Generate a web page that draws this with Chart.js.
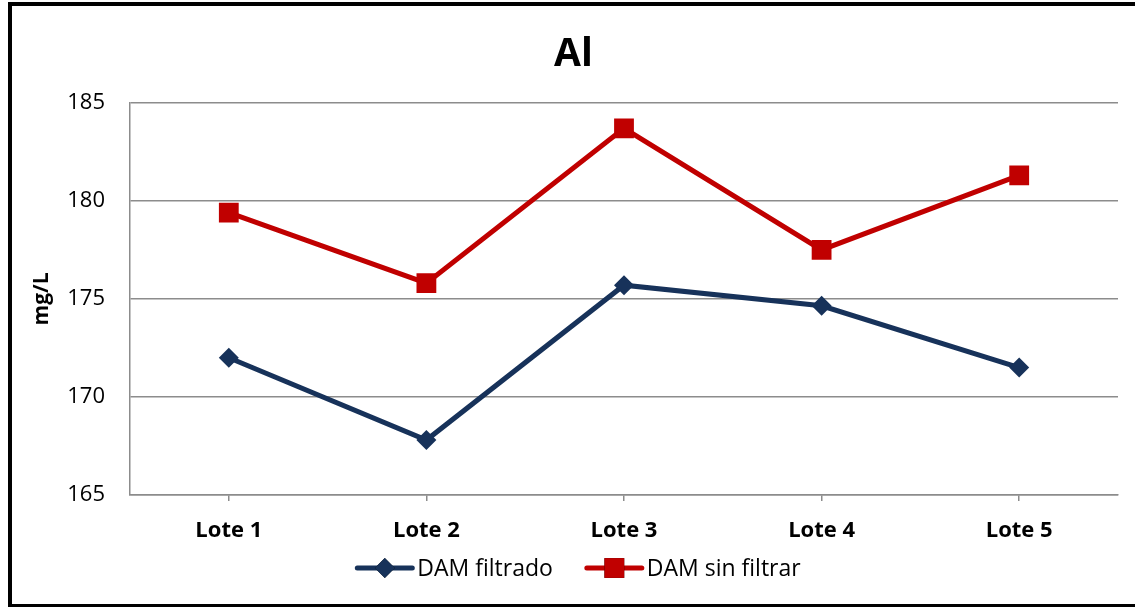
<!DOCTYPE html>
<html>
<head>
<meta charset="utf-8">
<script src="https://cdn.jsdelivr.net/npm/chart.js@4/dist/chart.umd.min.js"></script>
<style>
  html, body { margin: 0; padding: 0; background: #fff; overflow: hidden; }
  #wrap { position: relative; width: 1135px; height: 607px; }
  #frame { position: absolute; left: 8px; top: 2px; width: 1200px; height: 598px; border: 4px solid #000; pointer-events: none; }
</style>
</head>
<body>
<div id="wrap">
  <canvas id="chart" width="1135" height="607"></canvas>
  <div id="frame"></div>
</div>
<script>
// Data
const categories = ['Lote 1', 'Lote 2', 'Lote 3', 'Lote 4', 'Lote 5'];
const damFiltrado = [172.0, 167.8, 175.7, 174.65, 171.5];
const damSinFiltrar = [179.4, 175.8, 183.7, 177.5, 181.3];
const yTicks = [165, 170, 175, 180, 185];

const FONT = '"Open Sans", "Noto Sans", sans-serif';
const NAVY = '#17325A';
const RED = '#C00000';
const GRID = '#8c8c8c';

// Legend drawn as line + marker, like the original
const lineLegend = {
  id: 'lineLegend',
  afterDraw(chart) {
    const ctx = chart.ctx;
    ctx.save();
    ctx.font = '23px ' + FONT;
    ctx.textBaseline = 'middle';
    const items = chart.data.datasets.map(ds => ({ ds, w: 55 + 5 + ctx.measureText(ds.label).width }));
    const gap = 34;
    const total = items.reduce((s, it) => s + it.w, 0) + gap * (items.length - 1);
    let x = 579 - total / 2;
    const y = 568;
    items.forEach(it => {
      const ds = it.ds;
      ctx.strokeStyle = ds.borderColor;
      ctx.lineWidth = 5;
      ctx.lineCap = 'round';
      ctx.beginPath();
      ctx.moveTo(x, y);
      ctx.lineTo(x + 55, y);
      ctx.stroke();
      Chart.helpers.drawPoint(ctx, {
        pointStyle: ds.pointStyle, radius: ds.pointRadius, rotation: 0, borderWidth: 0
      }, x + 27.5, y);
      ctx.fillStyle = ds.backgroundColor;
      ctx.fill();
      ctx.fillStyle = '#000';
      ctx.textAlign = 'left';
      ctx.fillText(ds.label, x + 60, y + 1);
      x += it.w + gap;
    });
    ctx.restore();
  }
};

new Chart(document.getElementById('chart'), {
  type: 'line',
  data: {
    labels: categories,
    datasets: [
      {
        label: 'DAM filtrado', data: damFiltrado,
        borderColor: NAVY, backgroundColor: NAVY, borderWidth: 5,
        pointStyle: 'rectRot', pointRadius: 10, pointBorderWidth: 0,
        pointBackgroundColor: NAVY, tension: 0
      },
      {
        label: 'DAM sin filtrar', data: damSinFiltrar,
        borderColor: RED, backgroundColor: RED, borderWidth: 5,
        pointStyle: 'rect', pointRadius: 14, pointBorderWidth: 0,
        pointBackgroundColor: RED, tension: 0
      }
    ]
  },
  options: {
    responsive: false,
    animation: false,
    layout: { padding: { left: 29, right: 17, top: 0, bottom: 0 } },
    plugins: {
      legend: { display: false },
      tooltip: { enabled: false },
      title: {
        display: true, text: 'Al', color: '#000',
        font: { family: FONT, size: 39, weight: 'bold' },
        padding: { top: 31, bottom: 25 }
      }
    },
    scales: {
      x: {
        offset: true,
        grid: { drawOnChartArea: false, drawTicks: true, tickLength: 6, color: GRID, lineWidth: 1.5 },
        border: { display: true, color: GRID, width: 1.5 },
        ticks: { color: '#000', padding: 17, font: { family: FONT, size: 22, weight: 'bold' } },
        afterFit(scale) { scale.height = 112; }
      },
      y: {
        min: 165, max: 185,
        afterBuildTicks(scale) { scale.ticks = yTicks.map(v => ({ value: v })); },
        grid: { color: GRID, lineWidth: 1.5, drawTicks: false },
        border: { display: true, color: GRID, width: 1.5 },
        ticks: { color: '#000', padding: 25, font: { family: FONT, size: 22 } },
        title: {
          display: true, text: 'mg/L', color: '#000',
          font: { family: FONT, size: 21, weight: 'bold' },
          padding: { top: 0, bottom: 0 }
        },
        afterFit(scale) { scale.width = 101; }
      }
    }
  },
  plugins: [lineLegend]
});
</script>
</body>
</html>
